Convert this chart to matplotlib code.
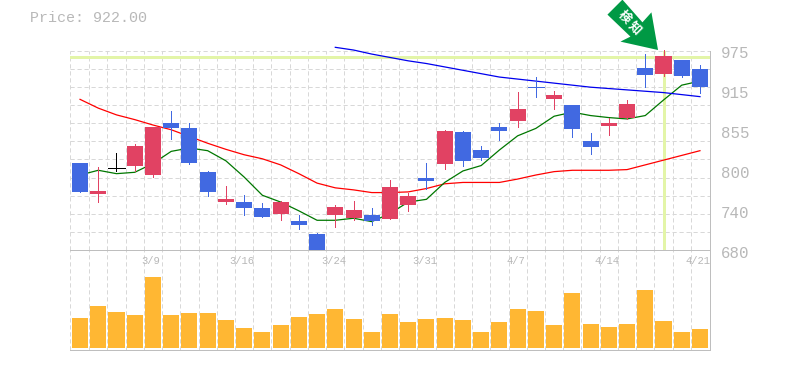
#!/usr/bin/env python3
"""Candlestick chart with moving averages and a volume panel."""
import matplotlib
matplotlib.use("Agg")
import matplotlib.pyplot as plt
from matplotlib.patches import Polygon
from matplotlib.transforms import Affine2D
import numpy as np

plt.rcParams["font.family"] = ["Liberation Mono", "Noto Sans CJK JP", "DejaVu Sans"]

# ── Data ───────────────────────────────────────────────────────────────────
opens = [809, 763, 801, 804, 791, 868, 861, 795, 751, 751,
         742, 733, 723, 704, 732, 727, 732, 726, 747, 787,
         807, 855, 828, 862, 871, 921, 904, 895, 841, 864,
         875, 949, 941, 961, 948]
closes = [766, 767, 801, 834, 862, 861, 809, 766, 756, 742,
          729, 751, 717, 680, 744, 739, 723, 773, 760, 782,
          856, 812, 816, 856, 889, 921, 909, 859, 832, 868,
          896, 939, 967, 938, 922]
highs = [809, 803, 824, 837, 862, 886, 868, 797, 775, 761,
         750, 753, 732, 705, 747, 753, 742, 784, 764, 809,
         858, 856, 834, 868, 914, 936, 915, 895, 853, 875,
         902, 970, 976, 961, 954]
lows = [766, 751, 797, 797, 788, 844, 807, 760, 748, 732,
        729, 724, 711, 680, 714, 724, 717, 726, 738, 771,
        800, 804, 813, 843, 862, 906, 889, 847, 822, 850,
        874, 921, 938, 936, 912]
volumes = [30, 42, 36, 33, 71, 33, 35, 35, 28, 20,
           16, 23, 31, 34, 39, 29, 16, 34, 26, 29,
           30, 28, 16, 26, 39, 37, 23, 55, 24, 21,
           24, 58, 27, 16, 19]
ma_short = [791, 798, 793, 795, 808, 826, 831, 827, 812, 788,
            761, 751, 738, 724, 724, 727, 722, 734, 751, 755,
            780, 797, 805, 828, 849, 860, 878, 884, 879, 876,
            874, 879, 902, 924, 930]
ma_mid = [903, 890, 880, 873, 865, 858, 848, 838, 829, 821,
          815, 806, 793, 779, 772, 769, 765, 765, 766, 771,
          778, 780, 780, 780, 785, 791, 796, 798, 798, 798,
          799, 806, 813, 820, 827]
ma_long = [980, 976, 970, 965, 960, 956, 951, 946, 941, 936,
           933, 930, 927, 924, 921, 919, 917, 915, 913, 910, 907]
ma_long_start = 14

date_pos = [4, 9, 14, 19, 24, 29, 34]
date_labels = ["3/9", "3/16", "3/24", "3/31", "4/7", "4/14", "4/21"]
price_ticks = [975, 916, 857, 798, 739, 680]
price_labels = ["975", "915", "855", "800", "740", "680"]
signal_idx = 32
signal_price = 966
current_price = "922.00"

# ── Styles ─────────────────────────────────────────────────────────────────
UP = "#E14263"
DOWN = "#4169E1"
DOJI = "#000000"
VOL = "#FFB733"
MARK = "#E3F5A8"
GRID = "#D8D8D8"
FRAME = "#BEBEBE"
TEXT = "#B8B8B8"
ARROW = "#009944"
PX = 0.72  # one pixel in points at dpi 100

W, H = 785, 370
LEFT, RIGHT, TOP, MID, BOTTOM = 70, 710, 50.7, 250, 350

fig = plt.figure(figsize=(W / 100, H / 100), dpi=100, facecolor="white")
ax = fig.add_axes([LEFT / W, 1 - MID / H, (RIGHT - LEFT) / W, (MID - TOP) / H])
vax = fig.add_axes([LEFT / W, 1 - BOTTOM / H, (RIGHT - LEFT) / W, (BOTTOM - MID) / H])

n = len(opens)
xs = np.arange(n)
xlim = (-0.55, n - 1 + 0.55)
dash = (0, (4.2, 2.8))

for a in (ax, vax):
    a.set_xlim(*xlim)
    a.set_facecolor("white")
    a.set_xticks(xs[:-1] + 0.5, minor=True)
    a.grid(which="minor", axis="x", color=GRID, lw=PX, ls=dash, zorder=0)
    a.tick_params(which="both", length=0)
    for s in a.spines.values():
        s.set_visible(False)
    a.set_axisbelow(True)
    a.axvline(xlim[0], color=GRID, lw=PX, ls=dash, zorder=0.5)
    a.axvline(xlim[1], color=FRAME, lw=PX, zorder=5, clip_on=False)

# ── Price panel ────────────────────────────────────────────────────────────
ax.set_ylim(680, 975)
ax.set_yticks(np.linspace(680, 975, 12), minor=True)
ax.grid(which="minor", axis="y", color=GRID, lw=PX, ls=dash, zorder=0)
ax.axhline(975, color=GRID, lw=PX, ls=dash, zorder=0.5, clip_on=False)

ax.axhline(signal_price, color=MARK, lw=PX * 3, zorder=1)
ax.axvline(signal_idx, color=MARK, lw=PX * 3, zorder=1)

ax.plot(xs, ma_mid, color="#FF0000", lw=PX * 1.25, zorder=2)
ax.plot(xs, ma_short, color="#007700", lw=PX * 1.25, zorder=2.1)
ax.plot(xs[ma_long_start:], ma_long, color="#0000EE", lw=PX * 1.25, zorder=2.2, clip_on=False)

for i in range(n):
    if opens[i] == closes[i]:
        color = DOWN if i > 20 else DOJI
    else:
        color = UP if closes[i] > opens[i] else DOWN
    ax.vlines(i, lows[i], highs[i], color=color, lw=PX, zorder=3, clip_on=False,
              antialiased=False)
    if opens[i] == closes[i]:
        ax.hlines(opens[i], i - 0.44, i + 0.44, color=color, lw=PX, zorder=3,
                  antialiased=False)
    else:
        ax.bar(i, abs(closes[i] - opens[i]), bottom=min(opens[i], closes[i]),
               width=0.88, color=color, zorder=4, antialiased=False)

ax.set_xticks([])
ax.yaxis.tick_right()
ax.set_yticks(price_ticks)
ax.set_yticklabels(price_labels, fontsize=11.3, color=TEXT)
ax.tick_params(axis="y", which="major", pad=8)
for lab in ax.get_yticklabels():
    lab.set_transform(lab.get_transform() + Affine2D().translate(0, -1.5))

for d, lab in zip(date_pos, date_labels):
    vax.text(d - 0.1, 1, lab, ha="center", va="center", fontsize=7.6, color=TEXT,
             clip_on=False, transform=vax.get_xaxis_transform() + Affine2D().translate(0, -10.5))

# ── Volume panel ───────────────────────────────────────────────────────────
vax.set_ylim(-2, 98)
vax.bar(xs, volumes, width=0.88, color=VOL, zorder=3, antialiased=False)
vax.set_xticks([])
vax.set_yticks([])
vax.axhline(98, color=FRAME, lw=PX, zorder=5, clip_on=False)
vax.axhline(-2, color=FRAME, lw=PX, zorder=5, clip_on=False)

# ── Annotations ────────────────────────────────────────────────────────────
fig.text(30 / W, 1 - 18 / H, f"Price: {current_price}", fontsize=10.8, color=TEXT,
         ha="left", va="center")

# arrow shape, pixels relative to its tip (y up)
shape = [(-35.6, 50.4), (-50.6, 35.4), (-27.6, 13.4), (-37.6, 8.4),
         (0, 0), (-6.6, 37.7), (-15.6, 27.7)]
tip = ax.transData.transform((signal_idx - 0.3, 976))
arrow = Polygon(shape, closed=True, facecolor=ARROW, edgecolor="none", zorder=8,
                transform=Affine2D().translate(*tip), clip_on=False)
fig.add_artist(arrow)
for glyph, dx, dy in (("検", -34, 33), ("知", -23, 22)):
    fig.text((tip[0] + dx) / W, (tip[1] + dy) / H, glyph, fontsize=9, color="white",
             rotation=-45, ha="center", va="center", weight="bold", zorder=9,
             family=["Noto Sans CJK JP", "DejaVu Sans"])

fig.savefig("out.png", dpi=100, facecolor="white")
